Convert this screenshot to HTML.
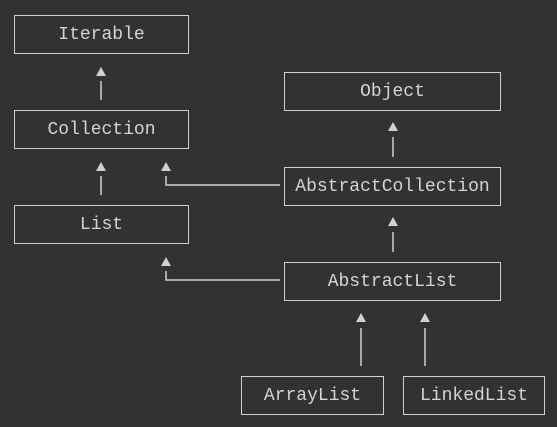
<!DOCTYPE html>
<html><head><style>
html,body{margin:0;padding:0;background:#323232;width:557px;height:427px;overflow:hidden}
.b{position:absolute;border:1.5px solid #cfcfcf;box-sizing:border-box;color:#d4d4d4;font-family:"Liberation Mono",monospace;font-size:18px;display:flex;align-items:center;justify-content:center}
svg{position:absolute;left:0;top:0}
</style></head><body>
<svg width="557" height="427">
<g fill="#d0d0d0">
<polygon points="101,67 96,76 106,76"/>
<polygon points="101,162 96,171 106,171"/>
<polygon points="166,162 161,171 171,171"/>
<polygon points="166,257 161,266 171,266"/>
<polygon points="393,122 388,131 398,131"/>
<polygon points="393,217 388,226 398,226"/>
<polygon points="361,313 356,322 366,322"/>
<polygon points="425,313 420,322 430,322"/>
</g>
<g stroke="#cfcfcf" stroke-width="1.5" fill="none">
<line x1="101" y1="81" x2="101" y2="100"/>
<line x1="101" y1="176" x2="101" y2="195"/>
<polyline points="166,176 166,185 280,185"/>
<polyline points="166,271 166,280 280,280"/>
<line x1="393" y1="137" x2="393" y2="157"/>
<line x1="393" y1="232" x2="393" y2="252"/>
<line x1="361" y1="328" x2="361" y2="366"/>
<line x1="425" y1="328" x2="425" y2="366"/>
</g>
</svg>
<div class="b" style="left:14px;top:15px;width:175px;height:39px">Iterable</div>
<div class="b" style="left:14px;top:110px;width:175px;height:39px">Collection</div>
<div class="b" style="left:14px;top:205px;width:175px;height:39px">List</div>
<div class="b" style="left:284px;top:72px;width:217px;height:39px">Object</div>
<div class="b" style="left:284px;top:167px;width:217px;height:39px">AbstractCollection</div>
<div class="b" style="left:284px;top:262px;width:217px;height:39px">AbstractList</div>
<div class="b" style="left:241px;top:376px;width:143px;height:39px">ArrayList</div>
<div class="b" style="left:403px;top:376px;width:142px;height:39px">LinkedList</div>
</body></html>
